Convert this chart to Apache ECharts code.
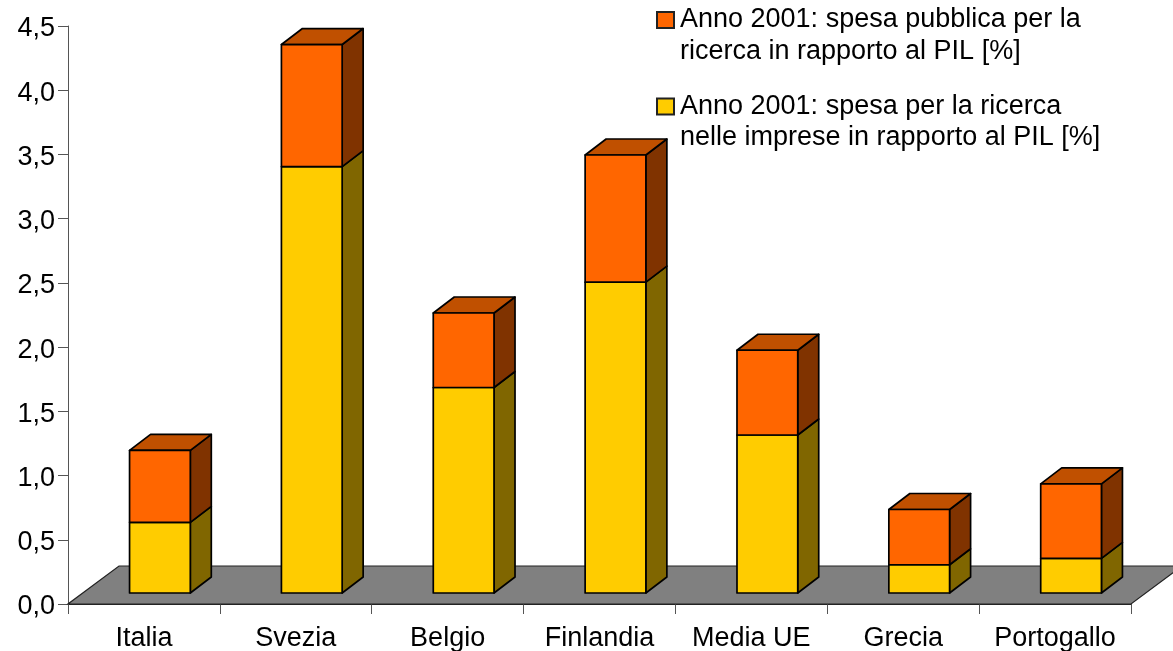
<!DOCTYPE html>
<html>
<head>
<meta charset="utf-8">
<style>html,body{margin:0;padding:0;background:#fff}#chart{width:1173px;height:651px}</style>
<script src="https://cdn.jsdelivr.net/npm/echarts@6/dist/echarts.min.js"></script>
</head>
<body>
<div id="chart"></div>
<script>
// R&D spending as a share of GDP, 2001, drawn as stacked pseudo-3D columns
const categories = ['Italia', 'Svezia', 'Belgio', 'Finlandia', 'Media UE', 'Grecia', 'Portogallo'];
const businessSpend = [0.55, 3.32, 1.60, 2.42, 1.23, 0.22, 0.27];
const publicSpend = [0.56, 0.95, 0.58, 0.99, 0.66, 0.43, 0.58];
const yTicks = { min: 0, max: 4.5, interval: 0.5 };
const businessName = 'Anno 2001: spesa per la ricerca\nnelle imprese in rapporto al PIL [%]';
const publicName = 'Anno 2001: spesa pubblica per la\nricerca in rapporto al PIL [%]';

const FONT = '"Liberation Sans", Arial, sans-serif';
const FLOOR_DEPTH = [51, -38];   // projection of the floor's depth
const BAR_SHIFT = [16, -11];     // columns stand part-way back on the floor
const BAR_DEPTH = [21, -16];     // projected depth of each column
const BAR_RATIO = 0.4;
const EDGE = { stroke: '#000', lineWidth: 1.7, lineJoin: 'round' };

function renderFloor(params) {
  const c = params.coordSys;
  const bottom = c.y + c.height, right = c.x + c.width;
  return {
    type: 'polygon',
    shape: { points: [
      [c.x, bottom], [right, bottom],
      [right + FLOOR_DEPTH[0], bottom + FLOOR_DEPTH[1]],
      [c.x + FLOOR_DEPTH[0], bottom + FLOOR_DEPTH[1]]
    ] },
    style: { fill: '#808080', stroke: '#222', lineWidth: 1.2 },
    silent: true
  };
}

function columnRenderer(front, side, top) {
  return function (params, api) {
    const i = api.value(0);
    const w = api.size([1, 0])[0] * BAR_RATIO;
    const lo = api.coord([i, api.value(1)]);
    const hi = api.coord([i, api.value(2)]);
    const x0 = lo[0] - w / 2 + BAR_SHIFT[0], x1 = x0 + w;
    const yLo = lo[1] + BAR_SHIFT[1], yHi = hi[1] + BAR_SHIFT[1];
    const dx = BAR_DEPTH[0], dy = BAR_DEPTH[1];
    const children = [
      { type: 'polygon', shape: { points: [[x1, yLo], [x1 + dx, yLo + dy], [x1 + dx, yHi + dy], [x1, yHi]] },
        style: Object.assign({ fill: side }, EDGE) }
    ];
    if (top) {
      children.push({ type: 'polygon', shape: { points: [[x0, yHi], [x1, yHi], [x1 + dx, yHi + dy], [x0 + dx, yHi + dy]] },
        style: Object.assign({ fill: top }, EDGE) });
    }
    children.push({ type: 'polygon', shape: { points: [[x0, yLo], [x1, yLo], [x1, yHi], [x0, yHi]] },
      style: Object.assign({ fill: front }, EDGE) });
    return { type: 'group', children };
  };
}

const businessData = categories.map((_, i) => [i, 0, businessSpend[i]]);
const publicData = categories.map((_, i) => [i, businessSpend[i], businessSpend[i] + publicSpend[i]]);

// Legend text starts with an empty line so the swatch sits beside the first written line
const legendText = name => '\n' + name.split('\n').map(l => '{t|' + l + '}').join('\n');

const chart = echarts.init(document.getElementById('chart'), null, { renderer: 'canvas' });
chart.setOption({
  animation: false,
  backgroundColor: '#fff',
  grid: { left: 68, top: 26, width: 1063, height: 578, containLabel: false, outerBoundsMode: 'none' },
  legend: {
    data: [publicName, businessName],
    orient: 'vertical',
    left: 656,
    top: -27.25,
    padding: 0,
    itemWidth: 17,
    itemHeight: 16,
    itemGap: -8,
    icon: 'rect',
    selectedMode: false,
    formatter: legendText,
    textStyle: {
      fontFamily: FONT, fontSize: 27, color: '#000', lineHeight: 31.5,
      rich: { t: { fontFamily: FONT, fontSize: 27, color: '#000', lineHeight: 31.5, padding: [0, 0, 0, 1] } }
    }
  },
  xAxis: {
    type: 'category',
    data: categories,
    axisLine: { show: true, onZero: false, lineStyle: { color: '#222', width: 1.2 } },
    axisTick: { show: true, alignWithLabel: false, length: 10, lineStyle: { color: '#555', width: 1 } },
    axisLabel: { fontFamily: FONT, fontSize: 27, color: '#000', margin: 21, interval: 0 }
  },
  yAxis: {
    type: 'value',
    min: yTicks.min,
    max: yTicks.max,
    interval: yTicks.interval,
    splitLine: { show: false },
    axisLine: { show: true, lineStyle: { color: '#555', width: 1 } },
    axisTick: { show: true, length: 10, lineStyle: { color: '#555', width: 1 } },
    axisLabel: {
      fontFamily: FONT, fontSize: 27, color: '#000', margin: 13,
      verticalAlign: 'top', lineHeight: 6,
      formatter: v => v.toFixed(1).replace('.', ',')
    }
  },
  series: [
    { type: 'custom', name: 'floor', renderItem: renderFloor, data: [[0, 0, 0]], clip: false, silent: true,
      encode: { x: 0, y: 1 }, z: 1 },
    { type: 'custom', name: businessName, renderItem: columnRenderer('#ffcc00', '#806600', null),
      data: businessData, encode: { x: 0, y: [1, 2] }, clip: false, z: 2,
      itemStyle: { color: '#ffcc00', borderColor: '#222', borderWidth: 1.2 } },
    { type: 'custom', name: publicName, renderItem: columnRenderer('#ff6600', '#803300', '#c05000'),
      data: publicData, encode: { x: 0, y: [1, 2] }, clip: false, z: 3,
      itemStyle: { color: '#ff6600', borderColor: '#222', borderWidth: 1.2 } }
  ]
});
</script>
</body>
</html>
